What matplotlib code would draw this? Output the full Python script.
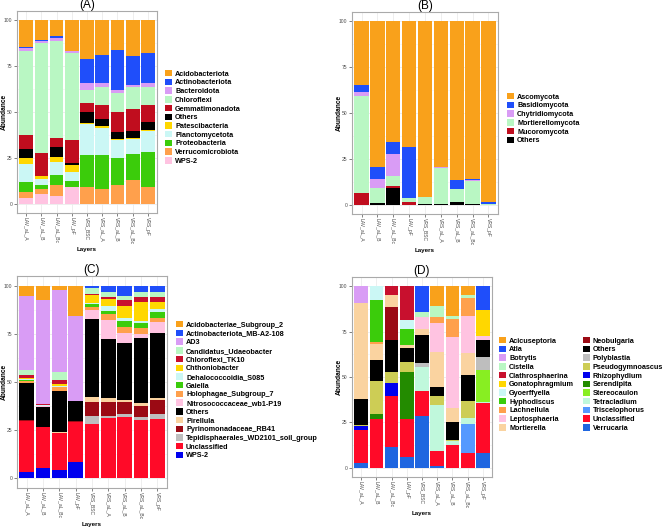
import matplotlib
matplotlib.use("Agg")
import matplotlib.pyplot as plt
from matplotlib.patches import Patch
import numpy as np

plt.rcParams['font.family'] = ['Liberation Sans', 'DejaVu Sans']

samples = ["LAV_aL_A", "LAV_aL_B", "LAV_aL_Bc", "LAV_pF", "VRS_BSC",
           "VRS_aL_A", "VRS_aL_B", "VRS_aL_Bc", "VRS_pF"]

# (A) bacterial phyla, one row per taxon (legend order), columns = samples
phyla_a = ["Acidobacteriota", "Actinobacteriota", "Bacteroidota", "Chloroflexi",
           "Gemmatimonadota", "Others", "Patescibacteria", "Planctomycetota",
           "Proteobacteria", "Verrucomicrobiota", "WPS-2"]
abund_a = [
    [14.5, 10.9, 8.7, 16.8, 21.0, 19.2, 16.3, 19.6, 17.8],
    [0.5, 0.7, 1.1, 0.2, 13.4, 15.2, 21.7, 15.9, 16.3],
    [1.7, 0.7, 1.4, 0.8, 3.6, 2.2, 1.5, 1.1, 2.5],
    [45.8, 60.2, 53.1, 47.4, 6.9, 9.4, 10.5, 11.6, 9.4],
    [7.4, 12.1, 4.5, 12.3, 4.9, 7.6, 10.9, 11.9, 9.6],
    [4.9, 0.5, 5.5, 1.1, 6.4, 4.2, 3.6, 3.8, 4.4],
    [3.5, 1.5, 2.7, 4.0, 0.5, 0.9, 0.7, 0.6, 0.3],
    [9.6, 3.1, 7.4, 4.9, 16.9, 14.5, 9.6, 8.3, 11.4],
    [5.9, 2.3, 5.6, 3.6, 17.5, 18.8, 14.9, 14.2, 19.4],
    [3.3, 2.6, 6.0, 0.0, 8.9, 8.0, 10.3, 13.0, 8.9],
    [2.9, 5.4, 4.0, 8.9, 0.0, 0.0, 0.0, 0.0, 0.0],
]
colors_a = ["#F9A11B", "#1F4EFA", "#D99CF5", "#B9F7C3", "#C00D1E", "#000000",
            "#FFD700", "#CBF7F5", "#3BCC0B", "#FFA04C", "#FFC3E1"]

# (B) fungal phyla
phyla_b = ["Ascomycota", "Basidiomycota", "Chytridiomycota", "Mortierellomycota",
           "Mucoromycota", "Others"]
abund_b = [
    [34.8, 79.2, 65.6, 68.7, 95.7, 79.4, 86.4, 85.7, 98.2],
    [3.8, 6.5, 6.9, 27.5, 0.1, 0.2, 4.9, 0.9, 1.3],
    [2.0, 4.9, 11.7, 0.2, 0.0, 0.5, 0.2, 0.2, 0.0],
    [52.7, 8.3, 5.8, 1.8, 4.0, 19.4, 7.1, 12.7, 0.5],
    [6.7, 0.0, 1.1, 1.8, 0.0, 0.0, 0.0, 0.0, 0.0],
    [0.0, 1.1, 8.9, 0.0, 0.2, 0.5, 1.4, 0.5, 0.0],
]
colors_b = ["#F9A11B", "#1F4EFA", "#D99CF5", "#B9F7C3", "#C00D1E", "#000000"]

# (C) bacterial genera
genera_c = ["Acidobacteriae_Subgroup_2", "Actinobacteriota_MB-A2-108", "AD3",
            "Candidatus_Udaeobacter", "Chloroflexi_TK10", "Chthoniobacter",
            "Dehalococcoidia_S085", "Gaiella", "Holophagae_Subgroup_7",
            "Nitrosococcaceae_wb1-P19", "Others", "Pirellula",
            "Pyrinomonadaceae_RB41", "Tepidisphaerales_WD2101_soil_group",
            "Unclassified", "WPS-2"]
abund_c = [
    [5.4, 7.2, 2.2, 16.0, 0.0, 0.0, 0.0, 0.0, 0.0],
    [0.0, 0.0, 0.0, 0.0, 1.0, 3.1, 5.4, 3.1, 3.1],
    [38.2, 54.0, 42.4, 43.9, 0.0, 0.0, 0.0, 0.0, 0.0],
    [2.6, 0.3, 4.4, 0.0, 3.3, 2.8, 2.0, 2.6, 2.8],
    [1.5, 0.6, 2.2, 0.0, 0.5, 1.2, 3.0, 3.0, 2.4],
    [0.5, 0.0, 0.8, 0.0, 4.0, 3.3, 6.6, 9.6, 4.0],
    [1.0, 0.2, 0.4, 0.0, 0.9, 2.7, 1.3, 1.3, 1.2],
    [0.3, 0.0, 0.0, 0.0, 1.2, 1.8, 3.0, 2.5, 3.1],
    [1.2, 0.3, 2.1, 0.0, 1.7, 2.9, 3.4, 3.2, 2.1],
    [0.0, 0.2, 0.2, 0.0, 4.7, 9.9, 5.2, 1.7, 5.7],
    [19.2, 10.4, 21.4, 10.5, 40.3, 30.4, 29.4, 33.7, 34.1],
    [0.0, 0.3, 0.2, 0.0, 2.8, 2.5, 1.3, 1.6, 0.8],
    [0.3, 0.0, 0.3, 0.2, 7.1, 7.0, 6.0, 6.0, 7.3],
    [0.0, 0.0, 0.0, 0.0, 4.1, 1.3, 1.4, 1.4, 2.6],
    [26.7, 21.1, 19.2, 20.9, 28.4, 31.1, 32.0, 30.3, 30.8],
    [3.1, 5.4, 4.2, 8.5, 0.0, 0.0, 0.0, 0.0, 0.0],
]
colors_c = ["#F9A11B", "#1F4EFA", "#D99CF5", "#B9F7C3", "#C8102E", "#FFD700",
            "#CBF7F5", "#3BCC0B", "#FFA04C", "#FFC3E1", "#000000", "#FAD3A0",
            "#9B0A14", "#BEBEBE", "#FF0A28", "#0000EE"]

# (D) fungal genera
genera_d = ["Acicuseptoria", "Atla", "Botrytis", "Cistella", "Clathrosphaerina",
            "Gonatophragmium", "Gyoerffyella", "Hyphodiscus", "Lachnellula",
            "Leptosphaeria", "Mortierella", "Neobulgaria", "Others", "Polyblastia",
            "Pseudogymnoascus", "Rhizophydium", "Serendipita", "Stereocaulon",
            "Tetracladium", "Triscelophorus", "Unclassified", "Verrucaria"]
abund_d = [
    [0.0, 0.0, 0.0, 0.0, 0.0, 10.9, 16.4, 4.7, 0.0],
    [0.0, 0.0, 0.0, 0.0, 14.2, 0.0, 0.0, 0.0, 13.3],
    [9.3, 0.0, 0.0, 0.0, 0.0, 0.0, 0.0, 0.0, 0.0],
    [0.0, 0.0, 0.0, 0.0, 2.8, 6.1, 1.5, 1.7, 0.0],
    [0.0, 0.0, 5.1, 18.8, 0.0, 0.0, 0.0, 0.0, 0.0],
    [0.0, 0.0, 0.0, 0.0, 0.0, 0.0, 0.0, 0.0, 14.1],
    [0.0, 7.8, 0.0, 4.9, 0.0, 0.0, 0.0, 0.0, 0.0],
    [0.0, 23.2, 0.0, 8.8, 0.0, 0.0, 0.0, 0.0, 0.0],
    [0.0, 0.9, 0.0, 0.0, 0.0, 3.1, 10.0, 10.0, 0.0],
    [0.0, 0.0, 0.0, 0.0, 6.4, 16.4, 39.3, 20.6, 2.3],
    [52.9, 8.8, 6.4, 1.8, 3.6, 18.8, 7.3, 11.9, 0.0],
    [0.0, 0.0, 18.2, 0.0, 0.0, 0.0, 0.0, 0.0, 0.0],
    [14.1, 11.3, 17.4, 7.7, 15.5, 4.9, 10.4, 14.2, 9.2],
    [0.0, 0.0, 0.0, 0.0, 1.8, 0.0, 0.0, 0.0, 7.3],
    [0.9, 18.4, 6.4, 5.1, 0.0, 5.1, 0.5, 9.2, 0.0],
    [1.8, 0.0, 6.9, 0.0, 0.0, 0.0, 0.0, 0.0, 0.0],
    [0.0, 2.6, 0.0, 25.9, 0.0, 0.0, 0.0, 0.0, 0.0],
    [0.0, 0.0, 0.0, 0.0, 0.0, 0.0, 0.0, 0.0, 17.3],
    [0.0, 0.0, 0.0, 0.0, 13.4, 25.6, 1.8, 3.6, 0.9],
    [0.0, 0.0, 0.0, 0.0, 0.0, 0.0, 0.0, 15.9, 0.0],
    [18.1, 27.0, 28.3, 21.2, 14.0, 8.2, 12.8, 8.2, 27.4],
    [2.9, 0.0, 11.3, 5.8, 28.3, 0.9, 0.0, 0.0, 8.2],
]
colors_d = ["#F9A11B", "#1F4EFA", "#D99CF5", "#B9F7C3", "#C8102E", "#FFD700",
            "#CBF7F5", "#3BCC0B", "#FFA04C", "#FFC3E1", "#FAD3A0", "#9B0A14",
            "#000000", "#BEBEBE", "#CDCD55", "#0000EE", "#238B00", "#88EE22",
            "#C0F8DC", "#5599FF", "#FF0A28", "#1F66E0"]


def stacked_panel(rect, title, taxa, rows, colors, leg_xy, ncol=1, colspace=1.0):
    ax = fig.add_axes(rect)
    x = np.arange(1, len(samples) + 1)
    bottom = np.zeros(len(samples))
    # last legend entry sits at the bottom of the stack
    for name, vals, col in reversed(list(zip(taxa, rows, colors))):
        vals = np.array(vals)
        ax.bar(x, vals, bottom=bottom, width=0.9, color=col, linewidth=0, zorder=2)
        bottom += vals

    ax.set_xlim(0.4, len(samples) + 0.6)
    ax.set_ylim(-5, 105)
    ax.set_yticks([0, 25, 50, 75, 100])
    ax.set_yticks([12.5, 37.5, 62.5, 87.5], minor=True)
    ax.set_xticks(x)
    ax.set_xticklabels(samples, rotation=270, ha='center', va='top')
    ax.tick_params(axis='both', labelsize=3.6, colors='#4D4D4D', length=2,
                   width=0.5, pad=1.2)
    ax.tick_params(which='minor', length=0)
    ax.grid(True, which='major', color='#EBEBEB', lw=0.6, zorder=0)
    ax.grid(True, which='minor', axis='y', color='#F2F2F2', lw=0.4, zorder=0)
    for s in ax.spines.values():
        s.set_color('#AAAAAA')
        s.set_linewidth(0.8)
    ax.set_xlabel("Layers", fontsize=4.5, fontweight='bold', labelpad=2)
    ax.set_ylabel("Abundance", fontsize=4.8, fontweight='bold', va='center')
    ax.yaxis.set_label_coords(-13.0 / (rect[2] * W), 0.5)
    ax.set_title(title, fontsize=8.5, pad=2)

    handles = [Patch(facecolor=c, edgecolor='none') for c in colors]
    fig.legend(handles, taxa, loc='upper left', bbox_to_anchor=leg_xy,
               ncol=ncol, frameon=False, prop={'size': 5.2, 'weight': 'bold'},
               handlelength=1.0, handleheight=1.0, handletextpad=0.4,
               labelspacing=0.14, borderpad=0, borderaxespad=0,
               columnspacing=colspace)
    return ax


W, H = 669, 530
fig = plt.figure(figsize=(W / 100, H / 100), dpi=100)


def frac(left, top, right, bottom):
    return [left / W, 1 - bottom / H, (right - left) / W, (bottom - top) / H]


stacked_panel(frac(17, 11, 157, 213), "(A)", phyla_a, abund_a, colors_a,
              (165 / W, 1 - 70 / H))
stacked_panel(frac(352, 12, 498, 214), "(B)", phyla_b, abund_b, colors_b,
              (507 / W, 1 - 93 / H))
stacked_panel(frac(17, 276, 167, 488), "(C)", genera_c, abund_c, colors_c,
              (176 / W, 1 - 321 / H))
stacked_panel(frac(352, 277, 492, 477), "(D)", genera_d, abund_d, colors_d,
              (499 / W, 1 - 337 / H), ncol=2, colspace=1.2)

fig.savefig("out.png", dpi=100)
